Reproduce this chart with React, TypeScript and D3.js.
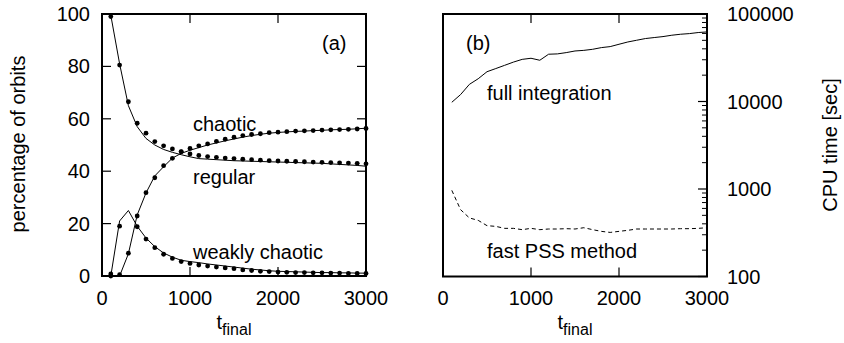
import * as d3 from "d3";

// ── Data ──────────────────────────────────────────────────────
const T = [100, 200, 300, 400, 500, 600, 700, 800, 900, 1000, 1100, 1200, 1300, 1400, 1500,
  1600, 1700, 1800, 1900, 2000, 2100, 2200, 2300, 2400, 2500, 2600, 2700, 2800, 2900, 3000];

// panel (a): solid lines and dots
const REGULAR_LINE = [99.5, 81, 65, 57, 52.5, 50, 48.3, 47.2, 46.3, 45.5, 44.8, 44.6, 44.4, 44.2, 44.0,
  43.9, 43.8, 43.7, 43.6, 43.5, 43.4, 43.3, 43.2, 43.1, 43.0, 42.8, 42.6, 42.4, 42.2, 41.9];
const REGULAR_DOTS = [99, 80.5, 66.5, 58.3, 54.5, 51.3, 49.7, 48.5, 47.5, 46.6, 46.0, 45.6, 45.3, 45.0, 44.8,
  44.6, 44.4, 44.2, 44.0, 43.9, 43.8, 43.7, 43.6, 43.5, 43.4, 43.3, 43.2, 43.1, 43.0, 42.8];
const CHAOTIC_LINE = [0, 0, 8.5, 23.3, 31.7, 38.2, 41.7, 45, 46.8, 48.0, 49.0, 50.0, 50.8, 51.6, 52.3,
  53.0, 53.6, 54.1, 54.5, 54.8, 55.0, 55.2, 55.3, 55.5, 55.6, 55.8, 55.9, 56.0, 56.2, 56.4];
const CHAOTIC_DOTS = [0, 0.5, 8.7, 22.9, 31.8, 37.5, 42.1, 44.9, 47.4, 48.7, 49.7, 50.4, 51.4, 52.2, 53.0,
  53.6, 54.0, 54.3, 54.7, 54.9, 55.1, 55.3, 55.4, 55.5, 55.7, 55.8, 55.9, 56.0, 56.1, 56.3];
const WEAK_LINE = [0, 21, 25, 19, 14.5, 11.2, 8.8, 7.2, 6.0, 5.5, 5.1, 4.6, 4.2, 3.8, 3.4,
  3.0, 2.6, 2.3, 2.0, 1.8, 1.7, 1.6, 1.5, 1.4, 1.3, 1.3, 1.2, 1.2, 1.1, 1.1];
const WEAK_DOTS = [0.8, 19, NaN, 18.8, 14.1, 10.8, 8.3, 6.7, 5.5, 4.8, 4.2, 3.8, 3.4, 3.1, 2.8,
  2.3, 2.1, 1.8, 1.7, 1.5, 1.4, 1.3, 1.3, 1.2, 1.2, 1.1, 1.1, 1.0, 1.0, 1.0];

// panel (b): CPU time in seconds
const FULL_CPU = [9800, 12000, 15700, 18200, 21900, 23800, 25900, 28200, 30300, 31200, 29600, 34700, 35000, 36200, 37800,
  38400, 39500, 41300, 42400, 45100, 47900, 50100, 52400, 53800, 55200, 57200, 58700, 59700, 61400, 62400];
const PSS_CPU = [965, 580, 467, 438, 381, 374, 355, 355, 343, 355, 343, 349, 349, 352, 349,
  361, 343, 328, 319, 328, 337, 349, 349, 349, 349, 349, 352, 352, 355, 361];

const X_TICKS = [0, 1000, 2000, 3000];
const PCT_TICKS = [0, 20, 40, 60, 80, 100];
const CPU_TICKS = [100, 1000, 10000, 100000];

// ── Layout ────────────────────────────────────────────────────
const W = 844;
const H = 343;
const FONT = "'Liberation Sans', Arial, Helvetica, sans-serif";
const A = { left: 102, right: 366, top: 14, bottom: 276 };
const B = { left: 443, right: 707, top: 14, bottom: 276.5 };
const TICK = 9;
const MINOR = 5;

export default function App() {
  const xa = d3.scaleLinear().domain([0, 3000]).range([A.left, A.right]);
  const ya = d3.scaleLinear().domain([0, 100]).range([A.bottom, A.top]);
  const xb = d3.scaleLinear().domain([0, 3000]).range([B.left, B.right]);
  const yb = d3.scaleLog().domain([100, 100000]).range([B.bottom, B.top]);

  const lineA = (vals: number[]) =>
    d3.line<number>().defined((d) => !isNaN(d)).x((_d, i) => xa(T[i])).y((d) => ya(d))(vals) ?? "";
  const lineB = (vals: number[]) =>
    d3.line<number>().x((_d, i) => xb(T[i])).y((d) => yb(d))(vals) ?? "";

  const dots = (vals: number[], key: string) =>
    vals.map((v, i) =>
      isNaN(v) ? null : <circle key={key + i} cx={xa(T[i])} cy={ya(v)} r={2.4} fill="#000" />
    );

  const minorTicks = yb.ticks().filter((v) => !CPU_TICKS.includes(v));

  return (
    <svg width={W} height={H} style={{ position: "absolute", left: 0, top: 0, background: "#fff" }}
      fontFamily={FONT} fontSize={20} fill="#000">
      {/* ── panel (a) ───────────────────────────────────────── */}
      <g>
        {X_TICKS.map((t) => (
          <g key={"xa" + t}>
            <line x1={xa(t)} x2={xa(t)} y1={A.bottom} y2={A.bottom - TICK} stroke="#000" strokeWidth={1.2} />
            <line x1={xa(t)} x2={xa(t)} y1={A.top} y2={A.top + TICK} stroke="#000" strokeWidth={1.2} />
            <text x={xa(t)} y={305} textAnchor="middle">{t}</text>
          </g>
        ))}
        {PCT_TICKS.map((v) => (
          <g key={"ya" + v}>
            <line x1={A.left} x2={A.left + TICK} y1={ya(v)} y2={ya(v)} stroke="#000" strokeWidth={1.2} />
            <line x1={A.right} x2={A.right - TICK} y1={ya(v)} y2={ya(v)} stroke="#000" strokeWidth={1.2} />
            <text x={90} y={ya(v) + 7} textAnchor="end">{v}</text>
          </g>
        ))}
        <path d={lineA(REGULAR_LINE)} fill="none" stroke="#000" strokeWidth={1} />
        <path d={lineA(CHAOTIC_LINE)} fill="none" stroke="#000" strokeWidth={1} />
        <path d={lineA(WEAK_LINE)} fill="none" stroke="#000" strokeWidth={1} />
        {dots(REGULAR_DOTS, "r")}
        {dots(CHAOTIC_DOTS, "c")}
        {dots(WEAK_DOTS, "w")}
        <rect x={A.left} y={A.top} width={A.right - A.left} height={A.bottom - A.top}
          fill="none" stroke="#000" strokeWidth={2} />
        <text x={322} y={50}>(a)</text>
        <text x={193} y={131}>chaotic</text>
        <text x={193} y={184}>regular</text>
        <text x={193} y={259}>weakly chaotic</text>
        <text transform="translate(25,144) rotate(-90)" textAnchor="middle">percentage of orbits</text>
        <text x={234} y={329} textAnchor="middle">
          t<tspan fontSize={16} dy={6}>final</tspan>
        </text>
      </g>

      {/* ── panel (b) ───────────────────────────────────────── */}
      <g>
        {X_TICKS.map((t) => (
          <g key={"xb" + t}>
            <line x1={xb(t)} x2={xb(t)} y1={B.bottom} y2={B.bottom - TICK} stroke="#000" strokeWidth={1.2} />
            <line x1={xb(t)} x2={xb(t)} y1={B.top} y2={B.top + TICK} stroke="#000" strokeWidth={1.2} />
            <text x={xb(t)} y={305} textAnchor="middle">{t}</text>
          </g>
        ))}
        {CPU_TICKS.map((v) => (
          <g key={"yb" + v}>
            <line x1={B.right} x2={B.right - TICK} y1={yb(v)} y2={yb(v)} stroke="#000" strokeWidth={1.2} />
            <text x={727} y={yb(v) + 7}>{v}</text>
          </g>
        ))}
        {minorTicks.map((v) => (
          <line key={"m" + v} x1={B.right} x2={B.right - MINOR} y1={yb(v)} y2={yb(v)} stroke="#000" strokeWidth={1} />
        ))}
        <path d={lineB(FULL_CPU)} fill="none" stroke="#000" strokeWidth={1} />
        <path d={lineB(PSS_CPU)} fill="none" stroke="#000" strokeWidth={1} strokeDasharray="4,3" />
        <rect x={B.left} y={B.top} width={B.right - B.left} height={B.bottom - B.top}
          fill="none" stroke="#000" strokeWidth={2} />
        <text x={466} y={50}>(b)</text>
        <text x={487} y={100}>full integration</text>
        <text x={487} y={258}>fast PSS method</text>
        <text transform="translate(837,145) rotate(-90)" textAnchor="middle">CPU time [sec]</text>
        <text x={575} y={329} textAnchor="middle">
          t<tspan fontSize={16} dy={6}>final</tspan>
        </text>
      </g>
    </svg>
  );
}
